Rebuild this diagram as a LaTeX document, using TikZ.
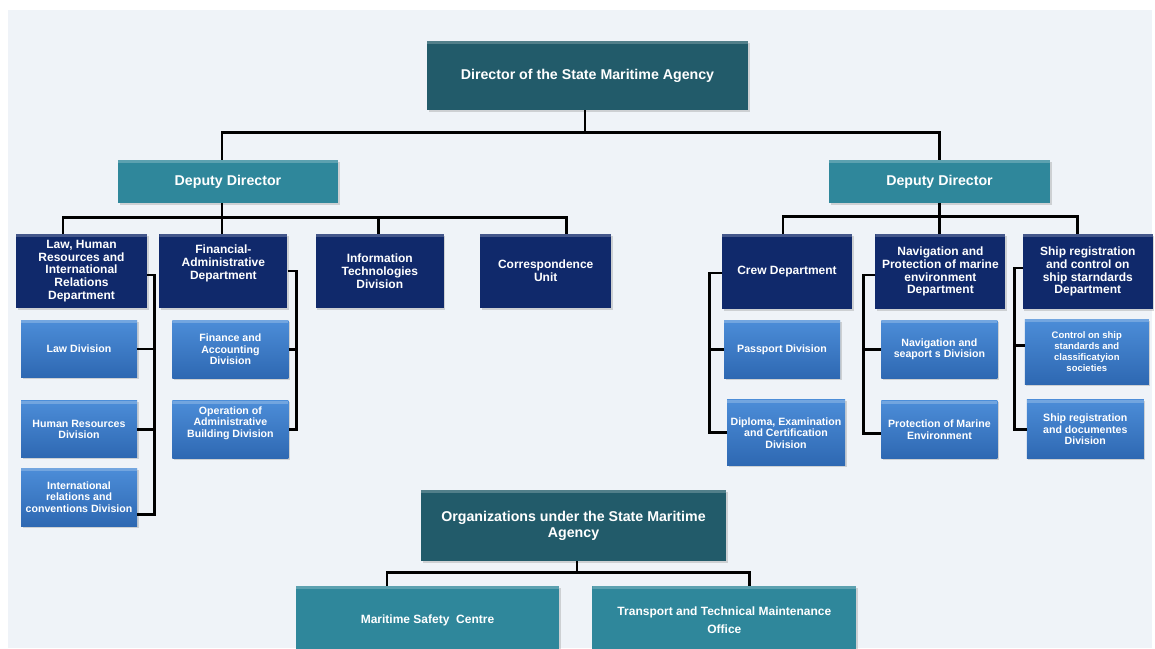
\documentclass[tikz,border=0pt]{standalone}
\usepackage{fontspec}
\setmainfont{Liberation Sans}
\usetikzlibrary{positioning,shadows}

\definecolor{panel}{RGB}{239,243,248}
\definecolor{chiefcol}{RGB}{34,91,106}
\definecolor{deputycol}{RGB}{47,135,155}
\definecolor{deptcol}{RGB}{16,41,107}
\definecolor{divtop}{RGB}{76,141,216}
\definecolor{divbot}{RGB}{46,104,178}

\tikzset{
    wh/.style 2 args={minimum width=#1, minimum height=#2},
    unit/.style={inner sep=0pt, align=center, text=white,
        drop shadow={shadow xshift=1.5pt, shadow yshift=-1.5pt, opacity=.3},
        path picture={\fill[white, opacity=.22] (path picture bounding box.north west)
            rectangle ([yshift=-3pt]path picture bounding box.north east);}},
    chief/.style={unit, fill=chiefcol, font=\bfseries\fontsize{14.2}{16}\selectfont},
    deputy/.style={unit, fill=deputycol, font=\bfseries\fontsize{14.2}{16}\selectfont},
    office/.style={deputy, font=\bfseries\fontsize{12}{18}\selectfont},
    dept/.style={unit, fill=deptcol, font=\bfseries\fontsize{12}{12.8}\selectfont},
    divn/.style={unit, top color=divtop, bottom color=divbot, font=\bfseries\fontsize{10.6}{11.5}\selectfont},
    divsmall/.style={divn, font=\bfseries\fontsize{9.5}{11}\selectfont},
    link/.style={line width=2.8pt, black}
}

\begin{document}
\begin{tikzpicture}[x=1pt, y=-1pt]
    \useasboundingbox (0,0) rectangle (1155,648);
    \fill[white] (0,0) rectangle (1155,648);
    \fill[panel] (8,10) rectangle (1152,648);

    \node[chief, wh={321pt}{69pt}] (dir) at (587.5,75.5) {Director of the State Maritime Agency};
    \node[deputy, wh={220pt}{43pt}] (depL) at (228,181.5) {Deputy Director};
    \node[deputy, wh={221pt}{43pt}] (depR) at (939.5,181.5) {Deputy Director};

    \node[dept, wh={131pt}{74pt}] (law) at (81.5,271) {Law, Human\\Resources and\\International\\Relations\\Department};
    \node[dept, wh={128pt}{74pt}, text depth=18pt, right=12pt of law] (fin) {Financial-\\Administrative\\Department};
    \node[dept, wh={128pt}{74pt}, right=28pt of fin] (itdiv) {Information\\Technologies\\Division};
    \node[dept, wh={131pt}{74pt}, right=36pt of itdiv] (corr) {Correspondence\\Unit};

    \node[dept, wh={130pt}{75pt}] (crew) at (787,271.5) {Crew Department};
    \node[dept, wh={130pt}{75pt}, right=23pt of crew] (nav) {Navigation and\\Protection of marine\\environment\\Department};
    \node[dept, wh={130pt}{75pt}, right=17pt of nav] (ship) {Ship registration\\and control on\\ship starndards\\Department};

    \node[divn, wh={116pt}{57pt}, below=12pt of law, xshift=-2.5pt] (lawdiv) {Law Division};
    \node[divn, wh={116pt}{57pt}, below=23pt of lawdiv] (hrdiv) {Human Resources\\Division};
    \node[divn, wh={116pt}{58pt}, below=10pt of hrdiv] (intdiv) {International\\relations and\\conventions Division};
    \node[divn, wh={116pt}{58pt}, below=12pt of fin, xshift=7pt] (findiv) {Finance and\\Accounting\\Division};
    \node[divn, wh={116pt}{58pt}, text depth=16pt, below=22pt of findiv] (opdiv) {Operation of\\Administrative\\Building Division};

    \node[divn, wh={116pt}{58pt}, below=11pt of crew, xshift=-5pt] (passdiv) {Passport Division};
    \node[divn, wh={118pt}{66pt}, below=21pt of passdiv, xshift=4pt] (dipdiv) {Diploma, Examination\\and Certification\\Division};
    \node[divn, wh={116pt}{58pt}, below=11pt of nav, xshift=-1pt] (navdiv) {Navigation and\\seaport s Division};
    \node[divn, wh={116pt}{58pt}, below=22pt of navdiv] (protdiv) {Protection of Marine\\Environment};
    \node[divsmall, wh={124pt}{65pt}, below=10pt of ship, xshift=-1pt] (ctrldiv) {Control on ship\\standards and\\classificatyion\\societies};
    \node[divn, wh={117pt}{59pt}, below=15pt of ctrldiv, xshift=-1.5pt] (regdiv) {Ship registration\\and documentes\\Division};

    \node[chief, wh={305pt}{71pt}] (org) at (573.5,525.5) {Organizations under the State Maritime\\Agency};
    \node[office, wh={263pt}{69pt}] (msc) at (427.5,620.5) {Maritime Safety\ \ Centre};
    \node[office, wh={264pt}{69pt}, right=33pt of msc] (ttmo) {Transport and Technical Maintenance\\Office};

    \draw[link] ([xshift=-2.5pt]dir.south) -- ++(0,22) coordinate (topbus);
    \draw[link] ([xshift=-6pt]depL.north) |- (topbus) -| (depR.north);

    \coordinate (busL) at ([xshift=-6pt,yshift=-14pt]depL.south);
    \draw[link] ([xshift=-6pt]depL.south) -- (busL) -- (busL |- fin.north);
    \draw[link] ([xshift=-18.5pt]law.north) |- (busL) -| ([xshift=20.5pt]corr.north);
    \draw[link] ([xshift=-1pt]itdiv.north) -- ([xshift=-1pt]itdiv.north |- busL);

    \coordinate (busR) at ([yshift=-13.5pt]depR.south);
    \draw[link] (depR.south) -- (depR.south |- nav.north);
    \draw[link] ([xshift=-4pt]crew.north) |- (busR) -| ([xshift=-10pt]ship.north);

    \coordinate (busO) at ([xshift=3.5pt,yshift=-11pt]org.south);
    \draw[link] ([xshift=3.5pt]org.south) -- (busO);
    \draw[link] ([xshift=-40.5pt]msc.north) |- (busO) -| ([xshift=25pt]ttmo.north);

    \draw[link] ([yshift=-4pt]law.east) -- ++(7,0) coordinate (lawtr) |- ([yshift=-17pt]intdiv.east);
    \draw[link] (lawdiv.east) -- (lawdiv.east -| lawtr);
    \draw[link] (hrdiv.east) -- (hrdiv.east -| lawtr);
    \draw[link] (fin.east) -- ++(9,0) coordinate (fintr) |- (opdiv.east);
    \draw[link] (findiv.east) -- (findiv.east -| fintr);

    \draw[link] ([yshift=-1.5pt]crew.west) -- ++(-12,0) coordinate (crewtr) |- (dipdiv.west);
    \draw[link] (passdiv.west) -- (passdiv.west -| crewtr);
    \draw[link] ([yshift=-3.5pt]nav.west) -- ++(-12,0) coordinate (navtr) |- ([yshift=-4pt]protdiv.west);
    \draw[link] (navdiv.west) -- (navdiv.west -| navtr);
    \draw[link] ([yshift=3.5pt]ship.west) -- ++(-8,0) coordinate (shiptr) |- (regdiv.west);
    \draw[link] ([yshift=6.5pt]ctrldiv.west) -- ([yshift=6.5pt]ctrldiv.west -| shiptr);
\end{tikzpicture}
\end{document}
